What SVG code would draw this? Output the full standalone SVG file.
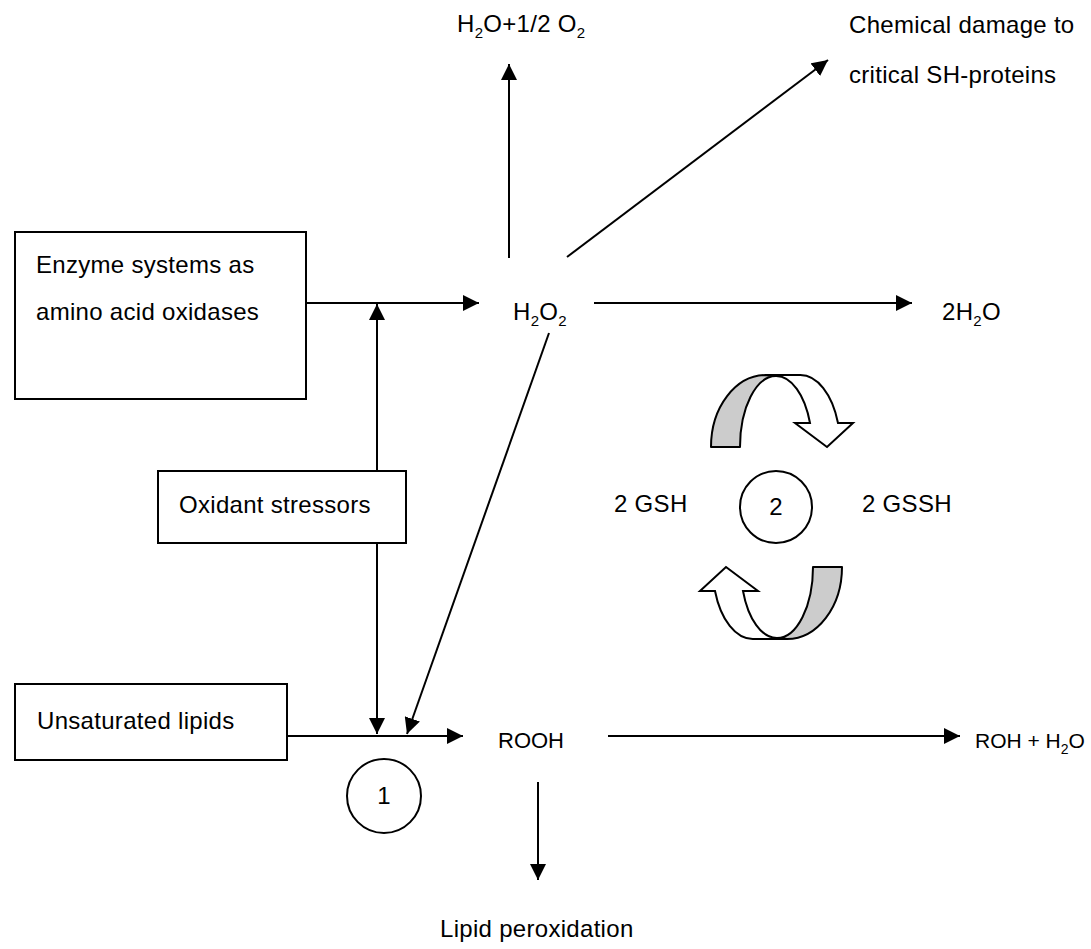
<svg xmlns="http://www.w3.org/2000/svg" width="1091" height="949" viewBox="0 0 1091 949">
<defs>
<style>
text{font-family:"Liberation Sans",Arial,sans-serif;font-size:24px;letter-spacing:0.3px;fill:#000}
.sub{font-size:15px}
.sm{font-size:22px;letter-spacing:0}
.xs{font-size:21px;letter-spacing:0}
.xs .sub{font-size:14px}
.box{fill:#fff;stroke:#000;stroke-width:2}
.ln{stroke:#000;stroke-width:2;fill:none}
.arr{marker-end:url(#ah)}
.cir{fill:#fff;stroke:#000;stroke-width:2}
.grey{fill:#cccccc;stroke:#000;stroke-width:2;stroke-linejoin:round}
.wht{fill:#fff;stroke:#000;stroke-width:2;stroke-linejoin:miter}
</style>
<marker id="ah" markerUnits="userSpaceOnUse" markerWidth="17" markerHeight="16" refX="16" refY="8" orient="auto">
<path d="M0,0 L16,8 L0,16 z" fill="#000"/>
</marker>
<g id="curl">
<path class="grey" d="M711,447 A55,72 0 0 1 766,375 L776,376 A36,71 0 0 0 740,447 Z"/>
<path class="wht" d="M776,376 L766,375 L800,375 A40,72 0 0 1 838,423 L853,423 L827,447 L795,423 L810,423 A36,71 0 0 0 776,376 Z"/>
</g>
</defs>
<rect width="1091" height="949" fill="#fff"/>

<g id="connectors">
<line class="ln arr" x1="509" y1="258" x2="509" y2="64"/>
<line class="ln arr" x1="567" y1="257" x2="828" y2="60"/>
<line class="ln arr" x1="306" y1="303" x2="479" y2="303"/>
<line class="ln arr" x1="594" y1="303" x2="912" y2="303"/>
<line class="ln arr" x1="377" y1="471" x2="377" y2="304"/>
<line class="ln arr" x1="377" y1="543" x2="377" y2="734"/>
<line class="ln arr" x1="549" y1="333" x2="407" y2="734"/>
<line class="ln arr" x1="288" y1="736" x2="463" y2="736"/>
<line class="ln arr" x1="608" y1="736" x2="960" y2="736"/>
<line class="ln arr" x1="538" y1="782" x2="538" y2="880"/>
</g>

<g id="cycle-arrows">
<use href="#curl"/>
<use href="#curl" transform="rotate(180 776.5 507)"/>
</g>

<g id="enzyme">
<rect class="box" x="15" y="232" width="291" height="167"/>
<text x="36" y="273">Enzyme systems as</text>
<text x="36" y="320">amino acid oxidases</text>
</g>

<g id="oxidant">
<rect class="box" x="158" y="471" width="248" height="72"/>
<text x="179" y="513">Oxidant stressors</text>
</g>

<g id="lipids">
<rect class="box" x="15" y="684" width="272" height="76"/>
<text x="37" y="729">Unsaturated lipids</text>
</g>

<g id="h2o-o2"><text x="457" y="32">H<tspan class="sub" dy="6">2</tspan><tspan dy="-6">O+1/2 O</tspan><tspan class="sub" dy="6">2</tspan></text></g>

<g id="damage">
<text x="849" y="33">Chemical damage to</text>
<text x="849" y="83">critical SH-proteins</text>
</g>

<g id="h2o2"><text x="513" y="320">H<tspan class="sub" dy="6">2</tspan><tspan dy="-6">O</tspan><tspan class="sub" dy="6">2</tspan></text></g>

<g id="water"><text x="942" y="320">2H<tspan class="sub" dy="6">2</tspan><tspan dy="-6">O</tspan></text></g>

<g id="gsh"><text x="614" y="512">2 GSH</text></g>
<g id="circle2">
<circle class="cir" cx="776" cy="507" r="36"/>
<text x="776" y="515" text-anchor="middle">2</text>
</g>
<g id="gssh"><text x="862" y="512">2 GSSH</text></g>

<g id="rooh"><text class="sm" x="498" y="748">ROOH</text></g>
<g id="roh"><text class="xs" x="975" y="748">ROH + H<tspan class="sub" dy="6">2</tspan><tspan dy="-6">O</tspan></text></g>

<g id="circle1">
<circle class="cir" cx="384" cy="796" r="37"/>
<text x="384" y="804" text-anchor="middle">1</text>
</g>

<g id="lipidperox"><text x="440" y="937">Lipid peroxidation</text></g>
</svg>
